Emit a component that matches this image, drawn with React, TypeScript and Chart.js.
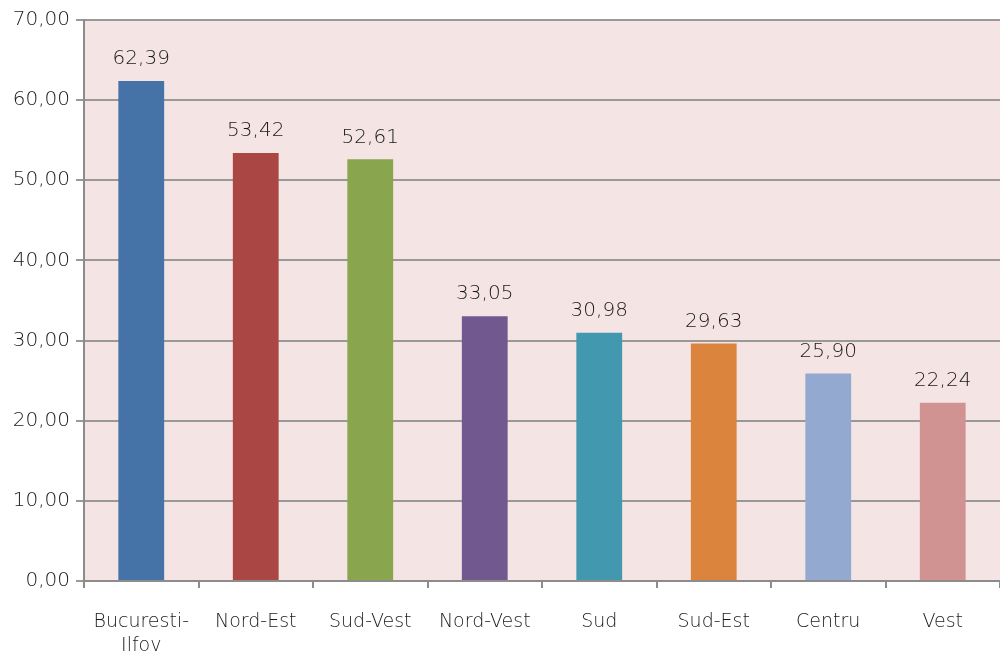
import React, { useEffect, useRef } from "react";
import { Chart, registerables } from "chart.js";

Chart.register(...registerables);

const categories: (string | string[])[] = [
  ["Bucuresti-", "Ilfov"],
  "Nord-Est",
  "Sud-Vest",
  "Nord-Vest",
  "Sud",
  "Sud-Est",
  "Centru",
  "Vest",
];
const values = [62.39, 53.42, 52.61, 33.05, 30.98, 29.63, 25.9, 22.24];
const barColors = [
  "#4572A7",
  "#AA4643",
  "#89A54E",
  "#71588F",
  "#4198AF",
  "#DB843D",
  "#93A9CF",
  "#D19392",
];
const yMin = 0;
const yMax = 70;
const yStep = 10;

const fmt = (v: number) => v.toFixed(2).replace(".", ",");

const FONT = "'DejaVu Sans', Lato, sans-serif";

const bgPlugin = {
  id: "plotBg",
  beforeDraw(chart: any) {
    const { ctx, chartArea } = chart;
    ctx.save();
    ctx.fillStyle = "#F5E4E4";
    ctx.fillRect(chartArea.left, chartArea.top, chartArea.right - chartArea.left, chartArea.bottom - chartArea.top);
    ctx.restore();
  },
};

const labelPlugin = {
  id: "valueLabels",
  afterDatasetsDraw(chart: any) {
    const { ctx } = chart;
    const meta = chart.getDatasetMeta(0);
    ctx.save();
    ctx.font = `200 20px ${FONT}`;
    ctx.fillStyle = "#1a1a1a";
    ctx.textAlign = "center";
    ctx.textBaseline = "middle";
    meta.data.forEach((bar: any, i: number) => {
      ctx.fillText(fmt(values[i]), bar.x, bar.y - 22);
    });
    ctx.restore();
  },
};

export default function App() {
  const ref = useRef<HTMLCanvasElement>(null);
  useEffect(() => {
    document.body.style.margin = "0";
    const chart = new Chart(ref.current!, {
      type: "bar",
      data: {
        labels: categories,
        datasets: [
          {
            data: values,
            backgroundColor: barColors,
            borderWidth: 0,
            barPercentage: 0.8,
            categoryPercentage: 0.5,
          },
        ],
      },
      options: {
        animation: false,
        responsive: false,
        maintainAspectRatio: false,
        layout: { padding: { top: 20, right: 0, bottom: 0, left: 0 } },
        plugins: { legend: { display: false }, tooltip: { enabled: false } },
        scales: {
          x: {
            afterFit(scale: any) {
              scale.height = 76;
            },
            grid: {
              display: true,
              drawOnChartArea: false,
              drawTicks: true,
              tickLength: 7,
              color: "#8c8c8c",
              lineWidth: 2,
              offset: true,
            },
            border: { display: true, color: "#8c8c8c", width: 2 },
            ticks: {
              color: "#1a1a1a",
              font: { family: FONT, size: 19, weight: "200", lineHeight: 1.25 },
              padding: 22,
              maxRotation: 0,
              autoSkip: false,
            },
          },
          y: {
            min: yMin,
            max: yMax,
            afterFit(scale: any) {
              scale.width = 84;
            },
            grid: {
              color: "#999999",
              lineWidth: 2,
              tickLength: 8,
              drawTicks: true,
            },
            border: { display: true, color: "#8c8c8c", width: 2 },
            ticks: {
              stepSize: yStep,
              color: "#1a1a1a",
              font: { family: FONT, size: 20, weight: "200" },
              padding: 6,
              callback: (v: any) => fmt(Number(v)),
            },
          },
        },
      },
      plugins: [bgPlugin, labelPlugin],
    });
    return () => chart.destroy();
  }, []);
  return (
    <div style={{ width: 1000, height: 657 }}>
      <canvas ref={ref} width={1000} height={657} style={{ display: "block" }} />
    </div>
  );
}
